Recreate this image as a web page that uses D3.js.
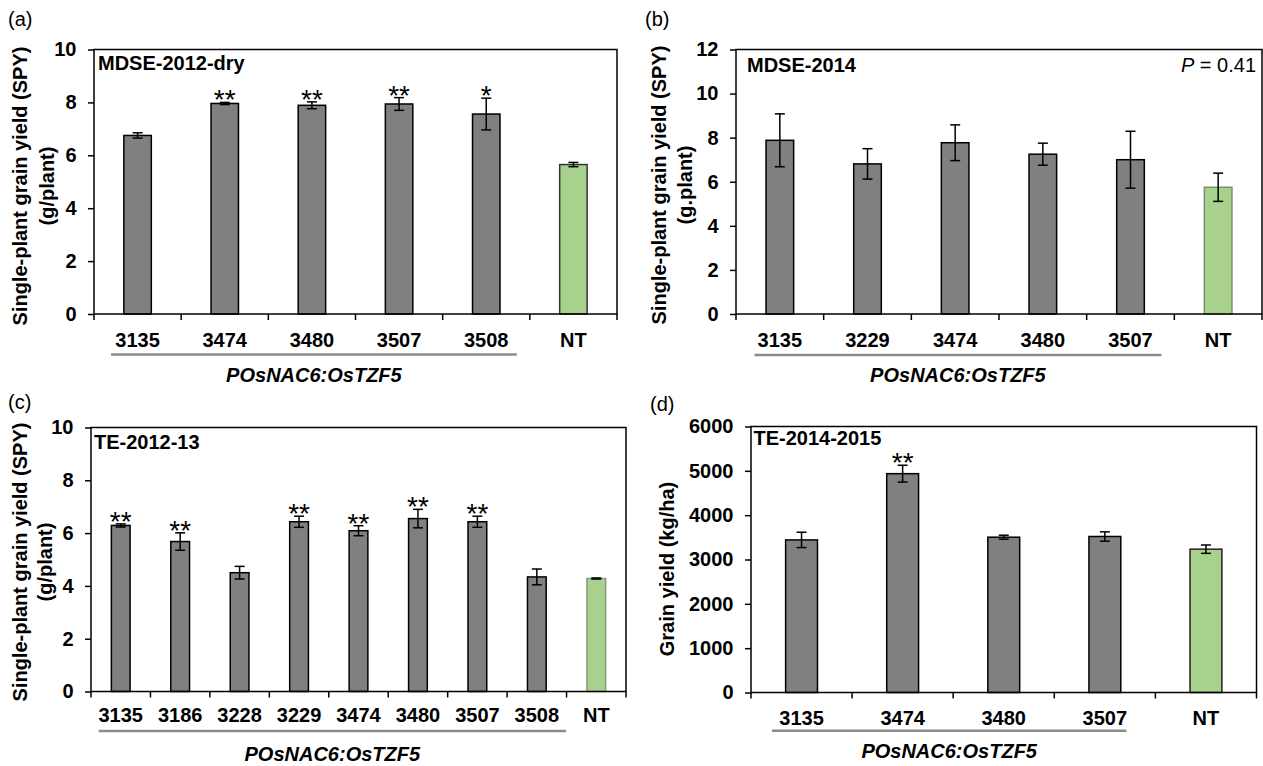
<!DOCTYPE html>
<html>
<head>
<meta charset="utf-8">
<script src="https://cdn.jsdelivr.net/npm/d3@7/dist/d3.min.js"></script>
<style>
  html, body { margin: 0; padding: 0; background: #fff; }
  svg { display: block; }
  text { font-family: "Liberation Sans", Arial, Helvetica, sans-serif; }
</style>
</head>
<body>
<svg id="chart" width="1263" height="766"></svg>
<script>
// ---------- DATA ----------
const catsA = ["3135", "3474", "3480", "3507", "3508", "NT"];
const valsA = [6.75, 7.96, 7.89, 7.94, 7.56, 5.65];
const errA  = [0.10, 0.04, 0.13, 0.24, 0.60, 0.08];
const sigA  = ["", "**", "**", "**", "*", ""];
const ticksA = [0, 2, 4, 6, 8, 10];

const catsB = ["3135", "3229", "3474", "3480", "3507", "NT"];
const valsB = [7.88, 6.81, 7.77, 7.25, 7.00, 5.75];
const errB  = [1.20, 0.69, 0.81, 0.50, 1.29, 0.64];
const sigB  = ["", "", "", "", "", ""];
const ticksB = [0, 2, 4, 6, 8, 10, 12];

const catsC = ["3135", "3186", "3228", "3229", "3474", "3480", "3507", "3508", "NT"];
const valsC = [6.29, 5.68, 4.50, 6.43, 6.09, 6.55, 6.43, 4.34, 4.28];
const errC  = [0.06, 0.33, 0.24, 0.21, 0.19, 0.35, 0.21, 0.30, 0.02];
const sigC  = ["**", "**", "", "**", "**", "**", "**", "", ""];
const ticksC = [0, 2, 4, 6, 8, 10];

const catsD = ["3135", "3474", "3480", "3507", "NT"];
const valsD = [3442, 4936, 3503, 3519, 3233];
const errD  = [173, 190, 45, 105, 94];
const sigD  = ["", "**", "", "", ""];
const ticksD = [0, 1000, 2000, 3000, 4000, 5000, 6000];

const groupLabel = "POsNAC6:OsTZF5";

// ---------- PANEL LAYOUT ----------
const panels = [
  { tag: "(a)", tagX: 8, tagY: 26, cats: catsA, vals: valsA, err: errA, sig: sigA, ticks: ticksA,
    left: 94, right: 617, top: 49.5, bottom: 314, title: "MDSE-2012-dry", titleX: 98, titleY: 70,
    ylab: ["Single-plant grain yield (SPY)", "(g/plant)"], ylabX: [21, 48], ylabY: 186,
    catY: 347, lineY: 354.5, lineInset: [17, 13], groupY: 382, ntStroke: "#333" },
  { tag: "(b)", tagX: 645, tagY: 26, cats: catsB, vals: valsB, err: errB, sig: sigB, ticks: ticksB,
    left: 736, right: 1262, top: 49.5, bottom: 314, title: "MDSE-2014", titleX: 747, titleY: 72,
    ylab: ["Single-plant grain yield (SPY)", "(g.plant)"], ylabX: [660, 686.5], ylabY: 185,
    catY: 347, lineY: 355, lineInset: [18.5, 13], groupY: 382, ntStroke: "#7d8f72",
    pText: true },
  { tag: "(c)", tagX: 8, tagY: 409, cats: catsC, vals: valsC, err: errC, sig: sigC, ticks: ticksC,
    left: 91, right: 626, top: 427.5, bottom: 691.5, title: "TE-2012-13", titleX: 94, titleY: 449,
    ylab: ["Single-plant grain yield (SPY)", "(g/plant)"], ylabX: [21, 46], ylabY: 562,
    catY: 722, lineY: 731, lineInset: [7.7, 0.6], groupY: 761, ntStroke: "#8a9a80" },
  { tag: "(d)", tagX: 650, tagY: 411, cats: catsD, vals: valsD, err: errD, sig: sigD, ticks: ticksD,
    left: 751, right: 1256.5, top: 426.5, bottom: 692.5, title: "TE-2014-2015", titleX: 753.5, titleY: 444.5,
    ylab: ["Grain yield (kg/ha)"], ylabX: [668.5], ylabY: 569,
    catY: 724.5, lineY: 730.7, lineInset: [21, 29], groupY: 758, ntStroke: "#222" }
];

const svg = d3.select("#chart");
const FS = 20;

panels.forEach(p => {
  const g = svg.append("g");
  const ymax = p.ticks[p.ticks.length - 1];
  const x = d3.scaleBand().domain(p.cats).range([p.left, p.right]).paddingInner(0).paddingOuter(0);
  const y = d3.scaleLinear().domain([0, ymax]).range([p.bottom, p.top]);
  const bw = x.bandwidth();
  const barW = bw * 0.315;

  // panel tag
  g.append("text").attr("x", p.tagX).attr("y", p.tagY)
    .attr("font-size", FS).attr("fill", "#000").text(p.tag);

  // bars
  g.selectAll("rect.bar").data(p.cats).join("rect")
    .attr("class", "bar")
    .attr("x", d => x(d) + bw / 2 - barW / 2)
    .attr("width", barW)
    .attr("y", (d, i) => y(p.vals[i]))
    .attr("height", (d, i) => y(0) - y(p.vals[i]))
    .attr("fill", d => d === "NT" ? "#a9d18e" : "#808080")
    .attr("stroke", d => d === "NT" ? p.ntStroke : "#000")
    .attr("stroke-width", 1.5);

  // error bars
  const eb = g.selectAll("g.err").data(p.cats).join("g").attr("class", "err")
    .attr("stroke", "#000").attr("stroke-width", 1.5);
  eb.append("line")
    .attr("x1", d => x(d) + bw / 2).attr("x2", d => x(d) + bw / 2)
    .attr("y1", (d, i) => y(p.vals[i] - p.err[i])).attr("y2", (d, i) => y(p.vals[i] + p.err[i]));
  [1, -1].forEach(s => {
    eb.append("line")
      .attr("x1", d => x(d) + bw / 2 - 5).attr("x2", d => x(d) + bw / 2 + 5)
      .attr("y1", (d, i) => y(p.vals[i] + s * p.err[i])).attr("y2", (d, i) => y(p.vals[i] + s * p.err[i]));
  });

  // significance stars
  g.selectAll("text.sig").data(p.cats).join("text")
    .attr("class", "sig")
    .attr("x", d => x(d) + bw / 2)
    .attr("y", (d, i) => y(p.vals[i] + p.err[i]) + 7)
    .attr("text-anchor", "middle")
    .attr("font-size", 28)
    .text((d, i) => p.sig[i]);

  // y axis
  const yAxis = d3.axisLeft(y).tickValues(p.ticks).tickSize(6).tickSizeOuter(0).tickPadding(11.5)
    .tickFormat(d3.format("d"));
  const ya = g.append("g").attr("transform", `translate(${p.left},0)`).call(yAxis);
  ya.select(".domain").remove();
  ya.selectAll(".tick line").attr("stroke", "#000").attr("stroke-width", 1.5);
  ya.selectAll(".tick text").attr("font-size", FS).attr("font-weight", "bold")
    .attr("font-family", "'Liberation Sans', Arial, sans-serif").attr("fill", "#000");

  // x axis (category labels)
  const xAxis = d3.axisBottom(x).tickSize(0).tickPadding(p.catY - p.bottom - 14.2);
  const xa = g.append("g").attr("transform", `translate(0,${p.bottom})`).call(xAxis);
  xa.select(".domain").remove();
  xa.selectAll(".tick text").attr("font-size", FS).attr("font-weight", "bold")
    .attr("font-family", "'Liberation Sans', Arial, sans-serif").attr("fill", "#000");

  // category boundary ticks
  const bounds = p.cats.map(d => x(d)).concat([p.right]);
  g.selectAll("line.bt").data(bounds).join("line")
    .attr("class", "bt")
    .attr("x1", d => d).attr("x2", d => d)
    .attr("y1", p.bottom).attr("y2", p.bottom + 6)
    .attr("stroke", "#000").attr("stroke-width", 1.5);

  // plot frame
  g.append("rect").attr("x", p.left).attr("y", p.top)
    .attr("width", p.right - p.left).attr("height", p.bottom - p.top)
    .attr("fill", "none").attr("stroke", "#000").attr("stroke-width", 1.5);

  // inside title
  g.append("text").attr("x", p.titleX).attr("y", p.titleY)
    .attr("font-size", FS).attr("font-weight", "bold").text(p.title);

  if (p.pText) {
    const t = g.append("text").attr("x", 1256).attr("y", 72)
      .attr("text-anchor", "end").attr("font-size", FS);
    t.append("tspan").attr("font-style", "italic").text("P");
    t.append("tspan").text(" = 0.41");
  }

  // y-axis title
  p.ylab.forEach((line, k) => {
    g.append("text")
      .attr("transform", `translate(${p.ylabX[k] + 5.5},${p.ylabY}) rotate(-90)`)
      .attr("text-anchor", "middle").attr("font-size", FS).attr("font-weight", "bold")
      .text(line);
  });

  // group underline + label
  const transgenic = p.cats.filter(d => d !== "NT");
  const lx1 = x(transgenic[0]) + p.lineInset[0];
  const lx2 = x(transgenic[transgenic.length - 1]) + bw - p.lineInset[1];
  g.append("line").attr("x1", lx1).attr("x2", lx2).attr("y1", p.lineY).attr("y2", p.lineY)
    .attr("stroke", "#8c8c8c").attr("stroke-width", 2.5);
  g.append("text").attr("x", (lx1 + lx2) / 2).attr("y", p.groupY)
    .attr("text-anchor", "middle").attr("font-size", FS).attr("font-weight", "bold")
    .attr("font-style", "italic").text(groupLabel);
});
</script>
</body>
</html>
